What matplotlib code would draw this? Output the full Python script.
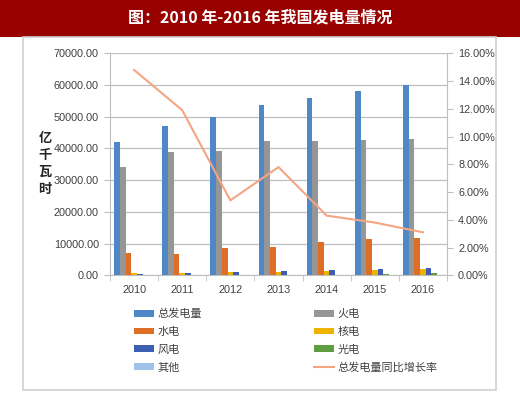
import matplotlib
matplotlib.use("Agg")
import matplotlib.pyplot as plt
import numpy as np
from matplotlib.patches import Rectangle, Patch
from matplotlib.lines import Line2D
from matplotlib.ticker import FuncFormatter, FixedLocator

plt.rcParams['font.family'] = ['Noto Sans CJK SC', 'DejaVu Sans']

years = ['2010', '2011', '2012', '2013', '2014', '2015', '2016']
total = [42072, 47130, 49876, 53721, 56045, 58106, 59897]
thermal = [34300, 39000, 39200, 42400, 42400, 42700, 43100]
hydro = [6900, 6600, 8500, 8800, 10600, 11300, 11900]
nuclear = [740, 870, 980, 1110, 1330, 1710, 2130]
wind = [450, 740, 960, 1380, 1560, 1850, 2400]
solar = [5, 10, 36, 90, 235, 395, 660]
other = [20, 20, 30, 40, 50, 80, 100]
growth = [14.8, 11.9, 5.4, 7.8, 4.3, 3.8, 3.1]

series_names = ['总发电量', '火电', '水电', '核电', '风电', '光电', '其他']
line_name = '总发电量同比增长率'
colors = ['#4F88C6', '#969696', '#DE6E26', '#F0B400', '#3A5FB5', '#5F9E3E', '#9DC3E6']
line_color = '#F4A582'

fig = plt.figure(figsize=(5.2, 3.99), dpi=100)
W, H = 520, 399

# title banner
fig.patches.append(Rectangle((0, 1 - 37 / H), 1, 37 / H, transform=fig.transFigure,
                             facecolor='#990000', edgecolor='none', zorder=-2))
fig.text(0.5, 1 - 18 / H, '图：2010 年-2016 年我国发电量情况', color='white',
         fontsize=11.5, fontweight='bold', ha='center', va='center')
# outer box
fig.patches.append(Rectangle((23 / W, 9 / H), (496 - 23) / W, (362 - 9) / H,
                             transform=fig.transFigure, facecolor='white',
                             edgecolor='#D0D0D0', linewidth=1.2, zorder=-2))

ax = fig.add_axes([110 / W, (H - 275.3) / H, (447 - 110) / W, (275.3 - 53.3) / H])
ax.set_facecolor('none')
x = np.arange(len(years))
data = [total, thermal, hydro, nuclear, wind, solar, other]
bw = 0.118
n = len(data)
for i, (vals, c) in enumerate(zip(data, colors)):
    ax.bar(x + (i - (n - 1) / 2) * bw, vals, width=bw, color=c, zorder=3)

ax.set_xlim(-0.5, len(years) - 0.5)
ax.set_ylim(0, 70000)
ax.set_yticks(np.arange(0, 70001, 10000))
ax.yaxis.set_major_formatter(FuncFormatter(lambda v, p: f'{v:.2f}'))
ax.set_xticks(x)
ax.set_xticklabels(years)
ax.xaxis.set_minor_locator(FixedLocator(np.arange(-0.5, len(years), 1)))
ax.tick_params(axis='x', which='major', length=0, pad=7)
ax.tick_params(axis='x', which='minor', length=4, color='#BFBFBF')
ax.tick_params(axis='y', length=4, color='#BFBFBF', pad=4)
for lab in ax.get_xticklabels() + ax.get_yticklabels():
    lab.set_family(['Liberation Sans', 'DejaVu Sans'])
    lab.set_fontsize(7.8)
    lab.set_color('#404040')
ax.grid(axis='y', color='#BFBFBF', linewidth=0.9, zorder=0)
for s in ['top', 'right']:
    ax.spines[s].set_visible(False)
ax.spines['left'].set_color('#BFBFBF')
ax.spines['bottom'].set_color('#BFBFBF')

ax2 = ax.twinx()
ax2.plot(x, growth, color=line_color, linewidth=1.5, zorder=4)
ax2.set_ylim(0, 16)
ax2.set_yticks(np.arange(0, 16.01, 2))
ax2.yaxis.set_major_formatter(FuncFormatter(lambda v, p: f'{v:.2f}%'))
ax2.tick_params(axis='y', length=4, color='#BFBFBF', pad=4)
for lab in ax2.get_yticklabels():
    lab.set_family(['Liberation Sans', 'DejaVu Sans'])
    lab.set_fontsize(7.8)
    lab.set_color('#404040')
for s in ['top', 'left', 'bottom']:
    ax2.spines[s].set_visible(False)
ax2.spines['right'].set_color('#BFBFBF')

# y label stacked
for k, ch in enumerate('亿千瓦时'):
    fig.text(45 / W, 1 - (138 + k * 17) / H, ch, fontsize=9.5, fontweight='bold',
             ha='center', va='center', color='#262626')

# legend
handles = {name: Patch(facecolor=c, edgecolor='none') for name, c in zip(series_names, colors)}
handles[line_name] = Line2D([], [], color=line_color, linewidth=1.5)
order = ['总发电量', '水电', '风电', '其他', '火电', '核电', '光电', line_name]
leg = fig.legend([handles[k] for k in order], order, ncol=2,
                 loc='upper left', bbox_to_anchor=(134 / W, 1 - 309 / H),
                 frameon=False, fontsize=8, handlelength=1.8, handleheight=0.55,
                 handletextpad=0.3, labelspacing=0.68, columnspacing=10.1,
                 borderpad=0, borderaxespad=0)
for t in leg.get_texts():
    t.set_color('#404040')

fig.savefig('out.png', dpi=100)
